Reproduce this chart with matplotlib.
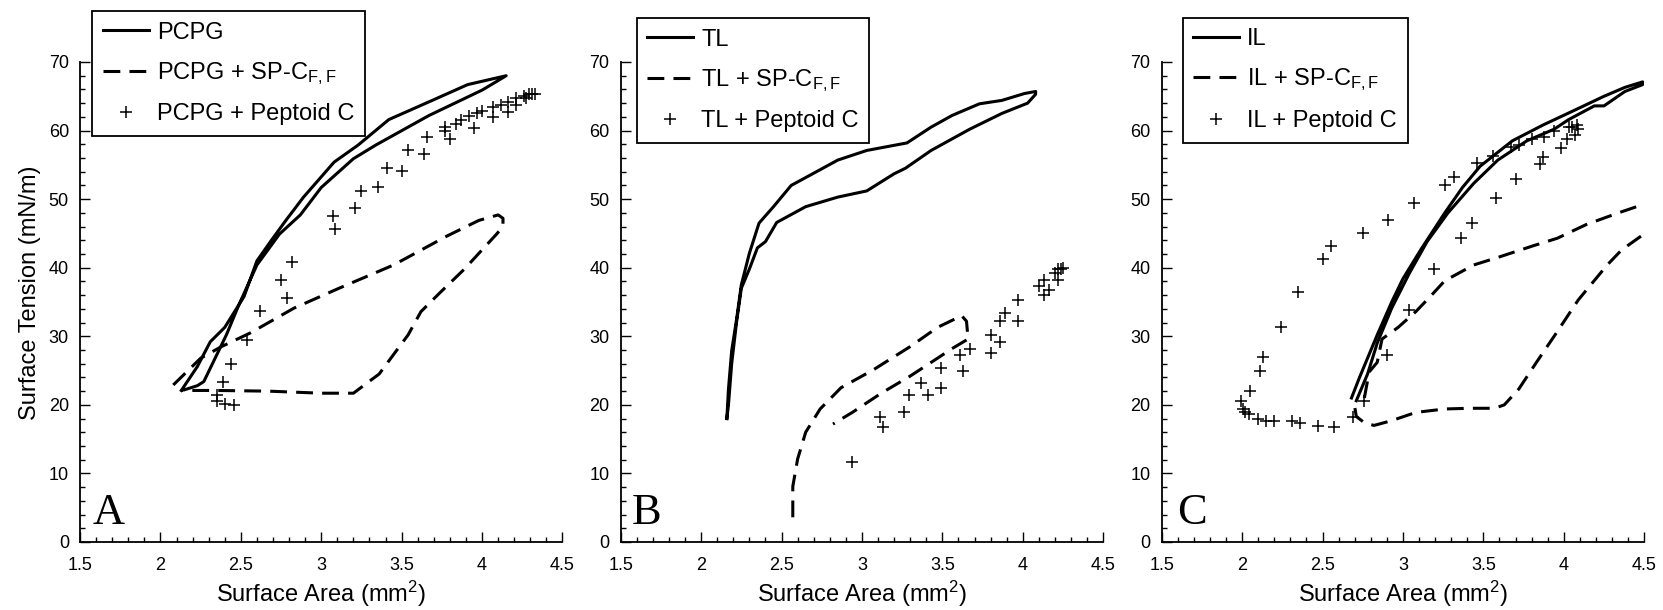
import numpy as np
import matplotlib.pyplot as plt
from matplotlib.ticker import MultipleLocator

plt.rcParams['font.family'] = ['Liberation Sans', 'DejaVu Sans']
plt.rcParams['mathtext.fontset'] = 'custom'
plt.rcParams['mathtext.rm'] = 'Liberation Sans'
plt.rcParams['mathtext.it'] = 'Liberation Sans:italic'

# ---- panel A: PCPG ----
pcpg_x = [2.13, 2.23, 2.31, 2.40, 2.52, 2.60, 2.69, 2.78, 2.89, 3.08, 3.23, 3.42, 3.69, 3.91, 4.15,
          4.00, 3.67, 3.34, 3.20, 3.00, 2.87, 2.74, 2.60, 2.49, 2.41, 2.27, 2.23, 2.15]
pcpg_y = [22.1, 25.6, 29.2, 31.3, 35.8, 41.0, 44.0, 46.9, 50.3, 55.4, 57.9, 61.6, 64.4, 66.7, 68.0,
          65.9, 62.2, 57.9, 55.9, 51.7, 47.7, 44.9, 40.4, 34.7, 30.2, 23.4, 22.8, 22.2]
pcpg_sp_x = [2.08, 2.25, 2.38, 2.56, 2.83, 3.11, 3.45, 3.78, 3.98, 4.10, 4.13, 4.13, 4.09, 3.89, 3.74,
             3.62, 3.54, 3.36, 3.20, 3.00, 2.67, 2.34, 2.13]
pcpg_sp_y = [22.9, 26.8, 28.5, 30.5, 34.1, 37.0, 40.4, 44.6, 46.9, 47.7, 47.2, 46.0, 44.9, 39.8, 36.4,
             33.6, 30.2, 24.5, 21.7, 21.7, 22.0, 22.1, 22.1]
pcpg_pep_x = [2.35, 2.35, 2.40, 2.46, 2.39, 2.44, 2.54, 2.62, 2.75, 2.79, 2.82, 3.07, 3.085, 3.21,
              3.25, 3.35, 3.41, 3.50, 3.54, 3.64, 3.66, 3.77, 3.77, 3.80, 3.835, 3.87, 3.92, 3.95,
              3.97, 4.00, 4.07, 4.07, 4.12, 4.16, 4.16, 4.21, 4.21, 4.26, 4.27, 4.29, 4.31, 4.33]
pcpg_pep_y = [21.4, 20.6, 20.1, 20.0, 23.4, 26.0, 29.4, 33.7, 38.2, 35.6, 40.8, 47.6, 45.6, 48.7,
              51.2, 51.8, 54.6, 54.1, 57.1, 56.6, 59.1, 60.5, 60.0, 58.7, 60.9, 61.5, 62.1, 60.4,
              62.5, 62.9, 62.0, 63.5, 63.7, 62.7, 64.2, 63.7, 64.7, 65.0, 64.7, 65.3, 65.3, 65.3]

# ---- panel B: TL ----
tl_x = [2.16, 2.17, 2.19, 2.22, 2.25, 2.30, 2.36, 2.45, 2.56, 2.67, 2.85, 3.03, 3.28, 3.43, 3.56,
        3.73, 3.87, 4.01, 4.08,
        4.08, 4.03, 3.87, 3.67, 3.43, 3.27, 3.20, 3.03, 2.85, 2.65, 2.47, 2.40, 2.35, 2.30, 2.25,
        2.22, 2.19, 2.17, 2.16]
tl_y = [18.0, 22.3, 27.9, 32.4, 37.5, 42.1, 46.5, 48.9, 52.0, 53.4, 55.7, 57.1, 58.2, 60.5, 62.2,
        63.9, 64.4, 65.4, 65.7,
        65.3, 64.0, 62.5, 60.2, 57.1, 54.5, 53.7, 51.2, 50.3, 48.9, 46.6, 43.8, 42.9, 39.8, 37.0,
        32.0, 26.0, 20.0, 18.0]
tl_sp_x = [2.57, 2.57, 2.60, 2.65, 2.74, 2.87, 3.07, 3.30, 3.47, 3.62, 3.65, 3.66, 3.56, 3.45,
           3.30, 3.12, 2.94, 2.82]
tl_sp_y = [3.6, 8.1, 12.1, 16.0, 19.4, 22.5, 25.1, 28.5, 31.3, 33.0, 32.2, 29.6, 28.2, 26.5,
           24.2, 21.7, 18.9, 17.2]
tl_pep_x = [2.94, 3.11, 3.13, 3.26, 3.29, 3.37, 3.41, 3.49, 3.49, 3.61, 3.63, 3.67, 3.80, 3.80,
            3.86, 3.86, 3.89, 3.97, 3.97, 4.10, 4.13, 4.13, 4.16, 4.20, 4.22, 4.22, 4.24, 4.25]
tl_pep_y = [11.7, 18.3, 16.8, 18.9, 21.5, 23.2, 21.4, 25.4, 22.5, 27.3, 24.9, 28.2, 30.2, 27.5,
            29.2, 32.3, 33.4, 35.3, 32.3, 37.3, 36.0, 38.2, 36.8, 39.2, 38.2, 39.8, 39.8, 39.9]

# ---- panel C: IL ----
il_x = [2.68, 2.73, 2.84, 2.93, 3.00, 3.11, 3.26, 3.37, 3.48, 3.68, 3.87, 4.07, 4.25, 4.38, 4.49,
        4.49, 4.38, 4.25, 4.19, 4.03, 3.94, 3.77, 3.59, 3.44, 3.28, 3.15, 3.04, 2.93, 2.84, 2.78, 2.71]
il_y = [21.0, 24.0, 30.2, 35.0, 38.4, 42.6, 48.0, 51.7, 54.8, 58.5, 60.8, 63.0, 65.0, 66.3, 67.1,
        66.7, 65.7, 63.6, 63.6, 61.6, 60.2, 58.5, 55.7, 52.3, 48.0, 43.8, 39.2, 34.1, 29.0, 24.5, 20.6]
il_sp_x = [2.76, 2.79, 2.84, 2.87, 2.97, 3.08, 3.17, 3.26, 3.44, 3.59, 3.81, 3.96, 4.14, 4.34, 4.49,
           np.nan,
           4.48, 4.36, 4.27, 4.09, 3.96, 3.83, 3.72, 3.63, 3.57, 3.41, 3.26, 3.08, 2.93, 2.82, 2.76,
           2.71, 2.70]
il_sp_y = [21.0, 24.8, 26.2, 29.6, 31.3, 33.6, 35.8, 38.1, 40.4, 41.5, 43.2, 44.3, 46.3, 48.0, 49.2,
           np.nan,
           44.6, 42.6, 40.4, 35.3, 30.7, 26.2, 22.3, 20.0, 19.5, 19.5, 19.4, 18.9, 17.7, 17.0, 17.4,
           18.3, 19.7]
il_pep_x = [1.99, 2.005, 2.02, 2.04, 2.05, 2.10, 2.11, 2.13, 2.15, 2.20, 2.24, 2.31, 2.36, 2.35,
            2.47, 2.50, 2.55, 2.57, 2.69, 2.75, 2.76, 2.90, 2.91, 3.04, 3.07, 3.19, 3.26, 3.32,
            3.36, 3.43, 3.46, 3.56, 3.58, 3.67, 3.70, 3.72, 3.80, 3.85, 3.87, 3.88, 3.94, 3.98,
            4.02, 4.03, 4.05, 4.07, 4.08, 4.09]
il_pep_y = [20.6, 19.4, 18.9, 18.6, 22.0, 18.0, 25.0, 27.0, 17.7, 17.7, 31.3, 17.6, 17.3, 36.4,
            16.9, 41.2, 43.2, 16.8, 18.3, 45.1, 20.6, 27.2, 47.0, 33.9, 49.4, 39.8, 52.1, 53.2,
            44.3, 46.5, 55.2, 56.3, 50.1, 57.6, 53.0, 57.9, 58.7, 55.1, 56.2, 59.1, 60.0, 57.4,
            58.8, 60.5, 60.5, 59.3, 60.8, 60.2]

names = ['PCPG', 'TL', 'IL']
letters = ['A', 'B', 'C']
panels = [
    (pcpg_x, pcpg_y, pcpg_sp_x, pcpg_sp_y, pcpg_pep_x, pcpg_pep_y),
    (tl_x, tl_y, tl_sp_x, tl_sp_y, tl_pep_x, tl_pep_y),
    (il_x, il_y, il_sp_x, il_sp_y, il_pep_x, il_pep_y),
]

W, H = 1663, 610
fig = plt.figure(figsize=(W / 100, H / 100), dpi=100)

# axes placement in pixels (left edge) and legend corners
ax_left = [80, 620.7, 1161.7]
leg_corner = [(92, 11), (636.5, 18), (1182.6, 17.5)]
letter_x = [0.027, 0.023, 0.033]

for i, (sx, sy, dx, dy, px, py) in enumerate(panels):
    ax = fig.add_axes([ax_left[i] / W, 68 / H, 482.5 / W, 480 / H])
    name = names[i]
    ax.plot(sx, sy, color='k', lw=2.2, label=name)
    ax.plot(dx, dy, color='k', lw=2.2, dashes=(5.5, 3), label=name + ' + SP-C$_{\\mathrm{F,F}}$')
    ax.plot(px, py, ls='none', marker='+', ms=8, mew=1.1, color='k', label=name + ' + Peptoid C')

    ax.set_xlim(1.5, 4.5)
    ax.set_ylim(0, 70)
    ax.xaxis.set_major_locator(MultipleLocator(0.5))
    ax.xaxis.set_minor_locator(MultipleLocator(0.1))
    ax.yaxis.set_major_locator(MultipleLocator(10))
    ax.yaxis.set_minor_locator(MultipleLocator(2))
    ax.xaxis.set_major_formatter(lambda v, p: f'{v:g}')
    ax.tick_params(which='both', direction='in', top=False, right=False, width=1.0, labelsize=13)
    ax.tick_params(which='major', length=7)
    ax.tick_params(which='minor', length=3.5)
    ax.tick_params(axis='x', pad=11)
    ax.tick_params(axis='y', pad=8)
    for s in ['top', 'right']:
        ax.spines[s].set_visible(False)
    for s in ['left', 'bottom']:
        ax.spines[s].set_linewidth(1.3)

    ax.set_xlabel('Surface Area (mm$^2$)', fontsize=17, labelpad=3)
    if i == 0:
        ax.set_ylabel('Surface Tension (mN/m)', fontsize=17)
        ax.yaxis.set_label_coords(-0.081, 0.52)

    ax.text(letter_x[i], 0.037, letters[i], transform=ax.transAxes, fontsize=32,
            family='Liberation Serif', va='baseline', ha='left')

    lx, ly = leg_corner[i]
    leg = ax.legend(loc='upper left', bbox_to_anchor=(lx / W, 1 - ly / H),
                    bbox_transform=fig.transFigure, borderaxespad=0, fontsize=17,
                    frameon=True, fancybox=False, framealpha=1, edgecolor='k',
                    handlelength=1.95, handletextpad=0.34, labelspacing=0.7, borderpad=0.45)
    leg.get_frame().set_linewidth(1.3)

fig.savefig('out.png', dpi=100)
